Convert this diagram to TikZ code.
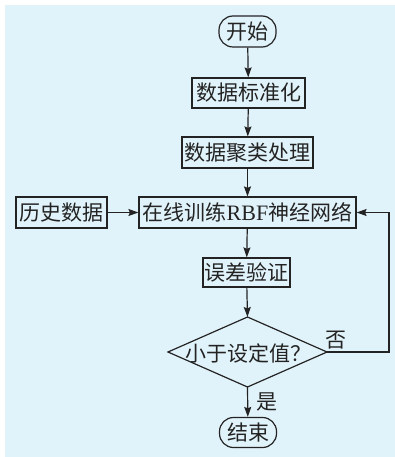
\documentclass[tikz,border=0pt]{standalone}
\usepackage{fontspec}
\setmainfont{Liberation Serif}
\newfontfamily\cjk{Noto Sans CJK SC}
\usetikzlibrary{arrows.meta}
\definecolor{bgblue}{RGB}{225,243,250}
\definecolor{ink}{RGB}{35,35,35}
\begin{document}
\begin{tikzpicture}[x=1pt,y=-1pt,
  every node/.style={font=\cjk\fontsize{21}{24}\selectfont, inner sep=0pt, text=ink},
  box/.style={draw=ink, line width=1.2pt, fill=bgblue},
  term/.style={box, rounded corners=14pt},
  conn/.style={draw=ink, line width=1.2pt, -{Stealth[length=10pt,width=7pt,inset=1.5pt]}},
  plain/.style={draw=ink, line width=1.2pt}]
\useasboundingbox (0,0) rectangle (395,457);
\fill[bgblue] (5,5) rectangle (395,457);
\node[term, minimum width=57pt, minimum height=31pt] (start) at (247.5,31.5) {开始};
\node[box, minimum width=113pt, minimum height=30pt] (n1) at (248.5,93) {数据标准化};
\node[box, minimum width=131pt, minimum height=31pt] (n2) at (247.5,152.5) {数据聚类处理};
\node[box, minimum width=217pt, minimum height=31pt] (n3) at (247.5,212.5) {在线训练{\rmfamily\fontsize{22}{24}\selectfont RBF}神经网络};
\node[box, minimum width=91pt, minimum height=31pt] (hist) at (61.5,212.5) {历史数据};
\node[box, minimum width=87pt, minimum height=29pt] (n4) at (246.5,272.5) {误差验证};
\coordinate (decT) at (247.5,317);
\coordinate (decR) at (327,352);
\coordinate (decB) at (247.5,387);
\coordinate (decL) at (168,352);
\draw[plain, fill=bgblue] (decT) -- (decR) -- (decB) -- (decL) -- cycle;
\node (dec) at (248.5,353) {小于设定值？};
\node[term, minimum width=57pt, minimum height=30pt] (end) at (248,432.5) {结束};
\coordinate (fb) at (389,352);
\draw[conn] (start) -- (n1);
\draw[conn] (n1) -- (n2);
\draw[conn] (n2) -- (n3);
\draw[conn] (hist) -- (n3);
\draw[conn] (n3) -- (n4);
\draw[conn] (n4) -- (decT);
\draw[conn] (decB) -- (end);
\draw[conn] (decR) -- (fb) |- (n3.east);
\node (no) at (336,340) {否};
\node (yes) at (267,402) {是};
\end{tikzpicture}
\end{document}
